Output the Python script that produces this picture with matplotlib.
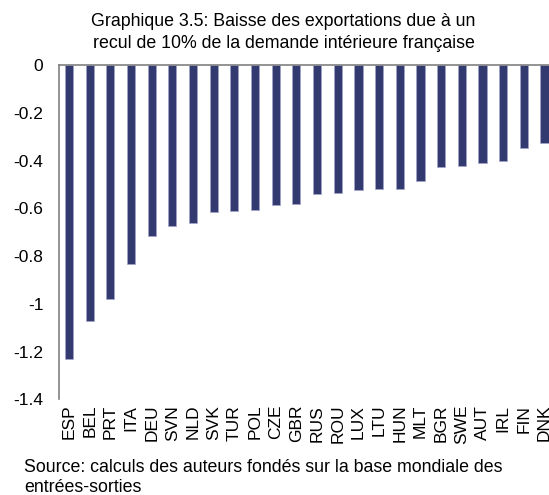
import matplotlib
matplotlib.use("Agg")
import matplotlib.pyplot as plt
import numpy as np

plt.rcParams['font.family'] = ['Liberation Sans', 'DejaVu Sans']

# pays et baisse des exportations (en %)
pays = ['ESP', 'BEL', 'PRT', 'ITA', 'DEU', 'SVN', 'NLD', 'SVK', 'TUR', 'POL',
        'CZE', 'GBR', 'RUS', 'ROU', 'LUX', 'LTU', 'HUN', 'MLT', 'BGR', 'SWE',
        'AUT', 'IRL', 'FIN', 'DNK']
baisse = [-1.233, -1.070, -0.981, -0.834, -0.715, -0.673, -0.662, -0.613,
          -0.611, -0.605, -0.585, -0.581, -0.541, -0.537, -0.523, -0.520,
          -0.517, -0.486, -0.425, -0.422, -0.411, -0.402, -0.347, -0.327]
yticks = [0, -0.2, -0.4, -0.6, -0.8, -1, -1.2, -1.4]
ylabels = ['0', '-0.2', '-0.4', '-0.6', '-0.8', '-1', '-1.2', '-1.4']

titre = ["Graphique 3.5: Baisse des exportations due à un",
         "recul de 10% de la demande intérieure française"]
source = ["Source: calculs des auteurs fondés sur la base mondiale des",
          "entrées-sorties"]

fig = plt.figure(figsize=(5.49, 4.95), dpi=100)
# l'axe depasse un peu a droite, comme dans l'original (DNK coupe)
ax = fig.add_axes([0.1069, 0.1933, 0.9035, 0.6747])

x = np.arange(len(pays))
ax.bar(x, baisse, width=0.4, color='#333A70', edgecolor='#A3A6CC', linewidth=0.5)

ax.set_xlim(-0.5, len(pays) - 0.5)
ax.set_ylim(-1.4, 0)
ax.set_yticks(yticks)
ax.set_yticklabels(ylabels, fontsize=12.5)
ax.set_xticks(x)
ax.set_xticklabels(pays, rotation=90, fontsize=12.5)
ax.tick_params(axis='both', length=0)
ax.tick_params(axis='y', pad=11)
ax.tick_params(axis='x', pad=4)

for s in ['right', 'bottom']:
    ax.spines[s].set_visible(False)
for s in ['top', 'left']:
    ax.spines[s].set_color('#808080')
    ax.spines[s].set_linewidth(1.2)

# titre et source, ligne par ligne
fig.text(0.5164, 1 - 21 / 495, titre[0], ha='center', va='center', fontsize=12.8)
fig.text(0.5164, 1 - 43 / 495, titre[1], ha='center', va='center', fontsize=12.8)
fig.text(24 / 549, 1 - 467 / 495, source[0], ha='left', va='center', fontsize=12.8)
fig.text(24 / 549, 1 - 487 / 495, source[1], ha='left', va='center', fontsize=12.8)

fig.savefig('out.png', dpi=100)
